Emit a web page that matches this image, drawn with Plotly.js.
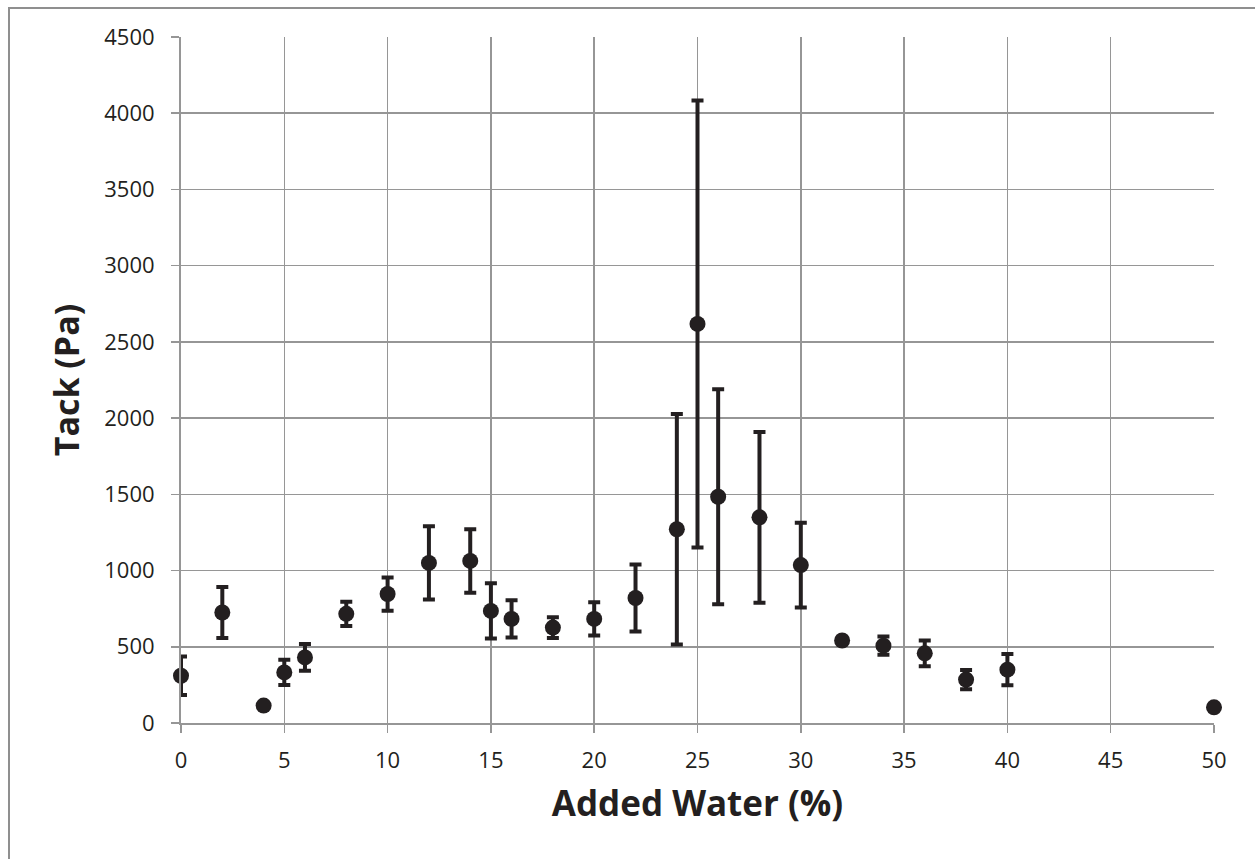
<!DOCTYPE html>
<html>
<head>
<meta charset="utf-8">
<script src="https://cdn.plot.ly/plotly-3.0.1.min.js"></script>
<style>
  html, body { margin: 0; padding: 0; background: #fff; overflow: hidden; }
  #frame { position: absolute; left: 8px; top: 7px; width: 1400px; height: 1000px;
           border: 2px solid #8f8f8f; box-sizing: border-box; }
  #chart { position: absolute; left: 0; top: 0; width: 1255px; height: 859px; }
</style>
</head>
<body>
<div id="frame"></div>
<div id="chart"></div>
<script>
// Added water (%)
const addedWater = [0, 2, 4, 5, 6, 8, 10, 12, 14, 15, 16, 18, 20, 22, 24, 25, 26, 28, 30, 32, 34, 36, 38, 40, 50];
// Tack (Pa)
const tack = [310, 725, 114, 332, 430, 716, 846, 1050, 1063, 735, 683, 626, 683, 820, 1271, 2618, 1484, 1349, 1036, 541, 507, 457, 285, 350, 103];
// Error (+/- Pa)
const tackErr = [127, 167, 0, 83, 88, 79, 109, 240, 208, 181, 122, 68, 109, 219, 756, 1466, 705, 560, 278, 0, 60, 85, 63, 102, 0];

const tickVals = [0, 500, 1000, 1500, 2000, 2500, 3000, 3500, 4000, 4500];
const xTicks = [0, 5, 10, 15, 20, 25, 30, 35, 40, 45, 50];

const dark = '#231f20';
const grid = '#969696';

const trace = {
  x: addedWater,
  y: tack,
  type: 'scatter',
  mode: 'markers',
  cliponaxis: false,
  marker: { size: 16, color: dark },
  error_y: { type: 'data', array: tackErr, visible: true, color: dark, thickness: 4, width: 6 },
  hoverinfo: 'x+y'
};

const font = "'Open Sans', 'Noto Sans', sans-serif";

const layout = {
  width: 1255,
  height: 859,
  paper_bgcolor: 'rgba(0,0,0,0)',
  plot_bgcolor: 'rgba(0,0,0,0)',
  margin: { l: 181, r: 41, t: 37, b: 136, pad: 0 },
  showlegend: false,
  font: { family: font, color: dark },
  xaxis: {
    range: [0, 50],
    tickvals: xTicks,
    ticktext: xTicks.map(String),
    showgrid: true,
    gridcolor: grid,
    gridwidth: 1.5,
    zeroline: false,
    showline: true,
    linecolor: grid,
    linewidth: 2,
    ticks: 'outside',
    ticklen: 8,
    tickwidth: 1.5,
    tickcolor: grid,
    ticklabelstandoff: 9,
    tickfont: { family: font, size: 22, color: dark },
    title: { text: 'Added Water (%)', font: { family: font, size: 35, color: dark, weight: 'bold' }, standoff: 18 }
  },
  yaxis: {
    range: [0, 4500],
    tickvals: tickVals,
    ticktext: tickVals.map(String),
    showgrid: true,
    gridcolor: grid,
    gridwidth: 1.5,
    zeroline: false,
    showline: true,
    linecolor: grid,
    linewidth: 2,
    ticks: 'outside',
    ticklen: 8,
    tickwidth: 1.5,
    tickcolor: grid,
    ticklabelstandoff: 12,
    tickfont: { family: font, size: 22, color: dark },
    title: { text: 'Tack (Pa)', font: { family: font, size: 34, color: dark, weight: 'bold' }, standoff: 14 }
  }
};

Plotly.newPlot('chart', [trace], layout, { displayModeBar: false, staticPlot: true });
</script>
</body>
</html>
